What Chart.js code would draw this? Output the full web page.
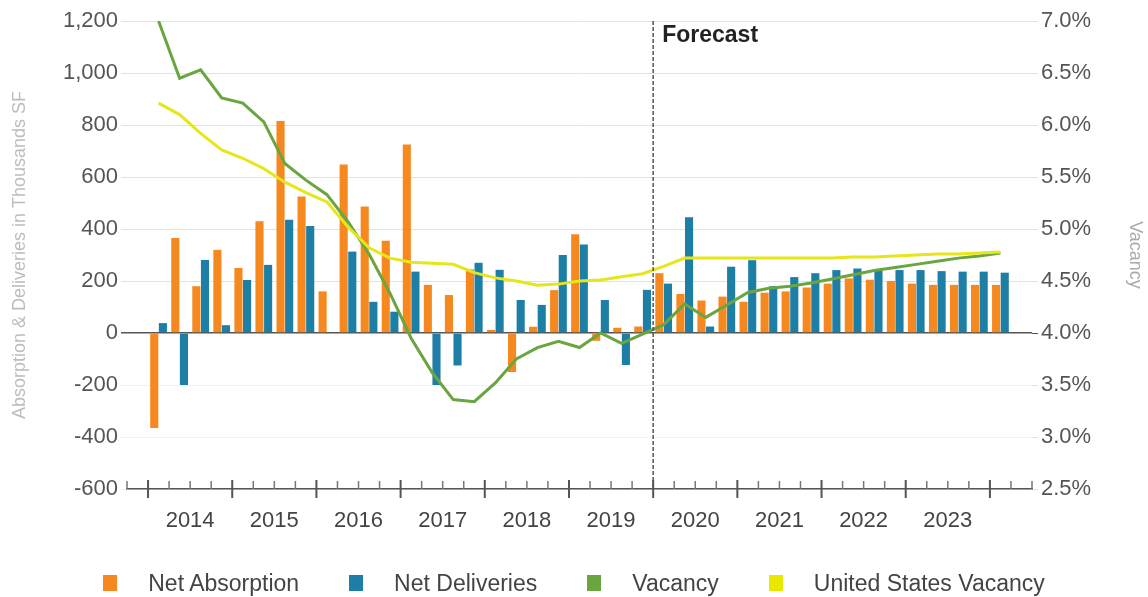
<!DOCTYPE html>
<html>
<head>
<meta charset="utf-8">
<script src="https://cdn.jsdelivr.net/npm/chart.js@4.4.0/dist/chart.umd.min.js"></script>
<style>
  html, body { margin: 0; padding: 0; background: #fff; }
  #wrap { position: relative; width: 1148px; height: 597px; }
  #legend { position: absolute; left: 0; top: 570px; width: 1148px; display: flex; justify-content: center;
            font: 23px "Liberation Sans", Arial, sans-serif; color: #444; line-height: 26px; }
  #legend .item { display: flex; align-items: center; margin: 0 25px; }
  #legend .sw { width: 14px; height: 16px; margin-right: 31px; }
</style>
</head>
<body>
<div id="wrap">
  <canvas id="myChart" width="1148" height="597"></canvas>
  <div id="legend"></div>
</div>
<script>
// quarters from 2013 Q4 to 2024 Q2 (first and last slot are empty)
var years = [2013, 2014, 2015, 2016, 2017, 2018, 2019, 2020, 2021, 2022, 2023, 2024];
var quarters = [];
years.forEach(function (y) {
    for (var q = 1; q <= 4; q++) quarters.push(y + ' Q' + q);
});
quarters = quarters.slice(3, 46);

var forecastStart = '2020 Q1';

// thousands SF
var netAbsorption = [null,
    -365, 365, 180, 320,
    250, 430, 815, 525,
    160, 648, 487, 355,
    725, 185, 146, 245,
    12, -150, 24, 165,
    380, -30, 20, 25,
    230, 150, 125, 140,
    120, 155, 160, 175,
    190, 210, 205, 200,
    190, 185, 185, 185,
    185, null];

var netDeliveries = [null,
    38, -200, 281, 30,
    204, 262, 436, 412,
    0, 313, 120, 82,
    236, -200, -125, 270,
    243, 127, 108, 300,
    340, 127, -123, 166,
    190, 445, 25, 255,
    280, 180, 215, 230,
    242, 248, 245, 242,
    242, 238, 236, 236,
    232, null];

// percent
var vacancy = [null,
    7.0, 6.45, 6.53, 6.26,
    6.21, 6.03, 5.63, 5.47,
    5.33, 5.07, 4.76, 4.38,
    3.95, 3.62, 3.36, 3.34,
    3.52, 3.75, 3.86, 3.92,
    3.86, 4.0, 3.9, 3.99,
    4.08, 4.28, 4.15, 4.27,
    4.39, 4.43, 4.45, 4.48,
    4.52, 4.56, 4.6, 4.63,
    4.66, 4.69, 4.72, 4.74,
    4.77, null];

var usVacancy = [null,
    6.21, 6.1, 5.92, 5.76,
    5.68, 5.58, 5.45, 5.35,
    5.26, 5.02, 4.82, 4.72,
    4.68, 4.67, 4.66, 4.58,
    4.53, 4.5, 4.46, 4.47,
    4.5, 4.51, 4.54, 4.57,
    4.64, 4.72, 4.72, 4.72,
    4.72, 4.72, 4.72, 4.72,
    4.72, 4.73, 4.73, 4.74,
    4.75, 4.76, 4.76, 4.77,
    4.78, null];

var FONT = '"Liberation Sans", Arial, sans-serif';

// forecast divider, "Forecast" text and the quarter/year tick marks
var extras = {
    id: 'extras',
    afterDatasetsDraw: function (chart) {
        var ctx = chart.ctx, x = chart.scales.x, area = chart.chartArea;
        var i = quarters.indexOf(forecastStart);
        var fx = (x.getPixelForValue(i - 1) + x.getPixelForValue(i)) / 2;
        ctx.save();
        ctx.strokeStyle = '#555';
        ctx.lineWidth = 1.5;
        ctx.setLineDash([4, 2]);
        ctx.beginPath();
        ctx.moveTo(fx, area.top);
        ctx.lineTo(fx, area.bottom);
        ctx.stroke();
        ctx.setLineDash([]);
        ctx.fillStyle = '#222';
        ctx.font = 'bold 23px ' + FONT;
        ctx.textBaseline = 'middle';
        ctx.fillText('Forecast', fx + 9, area.top + 15);

        var step = (area.right - area.left) / quarters.length;
        for (var k = 0; k <= quarters.length; k++) {
            var tx = area.left + k * step;
            var major = k < quarters.length && k > 0 && /Q1$/.test(quarters[k]);
            ctx.beginPath();
            if (major) {
                ctx.lineWidth = 2;
                ctx.strokeStyle = '#555';
                ctx.moveTo(tx, area.bottom - 9);
                ctx.lineTo(tx, area.bottom + 9);
            } else {
                ctx.lineWidth = 1.5;
                ctx.strokeStyle = '#777';
                ctx.moveTo(tx, area.bottom - 8);
                ctx.lineTo(tx, area.bottom);
            }
            ctx.stroke();
        }
        ctx.restore();
    }
};

var ctx = document.getElementById('myChart').getContext('2d');
var myChart = new Chart(ctx, {
    data: {
        labels: quarters,
        datasets: [{
            type: 'line',
            label: 'United States Vacancy',
            data: usVacancy,
            yAxisID: 'y1',
            borderColor: '#e6e61a',
            backgroundColor: '#e8e800',
            borderWidth: 3,
            pointRadius: 0,
            order: 0
        }, {
            type: 'line',
            label: 'Vacancy',
            data: vacancy,
            yAxisID: 'y1',
            borderColor: '#6aa540',
            backgroundColor: '#6aa540',
            borderWidth: 3,
            pointRadius: 0,
            order: 1
        }, {
            type: 'bar',
            label: 'Net Absorption',
            data: netAbsorption,
            yAxisID: 'y',
            backgroundColor: '#f5891f',
            categoryPercentage: 0.82,
            barPercentage: 0.94,
            order: 2
        }, {
            type: 'bar',
            label: 'Net Deliveries',
            data: netDeliveries,
            yAxisID: 'y',
            backgroundColor: '#1d7ea6',
            categoryPercentage: 0.82,
            barPercentage: 0.94,
            order: 3
        }]
    },
    options: {
        responsive: false,
        animation: false,
        devicePixelRatio: 1,
        layout: { padding: { top: 21, left: 0, right: 0, bottom: 0 } },
        plugins: {
            legend: { display: false },
            tooltip: { enabled: false }
        },
        scales: {
            x: {
                offset: true,
                afterFit: function (s) { s.height = 108; },
                grid: { drawOnChartArea: false, drawTicks: false },
                border: { color: '#555', width: 1.5 },
                ticks: {
                    autoSkip: false,
                    maxRotation: 0,
                    padding: 19,
                    labelOffset: 10.5,
                    color: '#444',
                    font: { family: FONT, size: 22 },
                    callback: function (v, i) {
                        var l = quarters[i];
                        return /Q2$/.test(l) && l.indexOf('2024') < 0 ? l.slice(0, 4) : '';
                    }
                }
            },
            y: {
                position: 'left',
                min: -600,
                max: 1200,
                afterFit: function (s) { s.width = 127; },
                border: { display: false },
                grid: {
                    tickLength: 6,
                    color: function (c) {
                        if (c.tick.value === 0) return '#555';
                        return c.tick.value < 0 ? '#f1f1f1' : '#e2e2e2';
                    },
                    lineWidth: function (c) { return c.tick.value === 0 ? 1.5 : 1; }
                },
                ticks: {
                    stepSize: 200,
                    padding: 3,
                    color: '#555',
                    font: { family: FONT, size: 22 },
                    callback: function (v) { return v.toLocaleString('en-US'); }
                },
                title: {
                    display: true,
                    text: 'Absorption & Deliveries in Thousands SF',
                    color: '#bdbdbd',
                    font: { family: FONT, size: 18 },
                    padding: { top: 9, bottom: 0 }
                }
            },
            y1: {
                position: 'right',
                min: 2.5,
                max: 7.0,
                afterFit: function (s) { s.width = 116; },
                border: { display: false },
                grid: {
                    drawOnChartArea: false,
                    tickLength: 6,
                    color: function (c) { return c.tick.value === 4 ? '#555' : '#e2e2e2'; }
                },
                ticks: {
                    stepSize: 0.5,
                    padding: 3,
                    color: '#555',
                    font: { family: FONT, size: 22 },
                    callback: function (v) { return v.toFixed(1) + '%'; }
                },
                title: {
                    display: true,
                    text: 'Vacancy',
                    color: '#aaa',
                    font: { family: FONT, size: 18 },
                    padding: { top: 2, bottom: 0 }
                }
            }
        }
    },
    plugins: [extras]
});

// html legend in the reference order
var legendOrder = ['Net Absorption', 'Net Deliveries', 'Vacancy', 'United States Vacancy'];
var legend = document.getElementById('legend');
legendOrder.forEach(function (name) {
    var ds = myChart.data.datasets.find(function (d) { return d.label === name; });
    var item = document.createElement('div');
    item.className = 'item';
    var sw = document.createElement('span');
    sw.className = 'sw';
    sw.style.background = ds.backgroundColor;
    var txt = document.createElement('span');
    txt.textContent = name;
    item.appendChild(sw);
    item.appendChild(txt);
    legend.appendChild(item);
});
</script>
</body>
</html>
